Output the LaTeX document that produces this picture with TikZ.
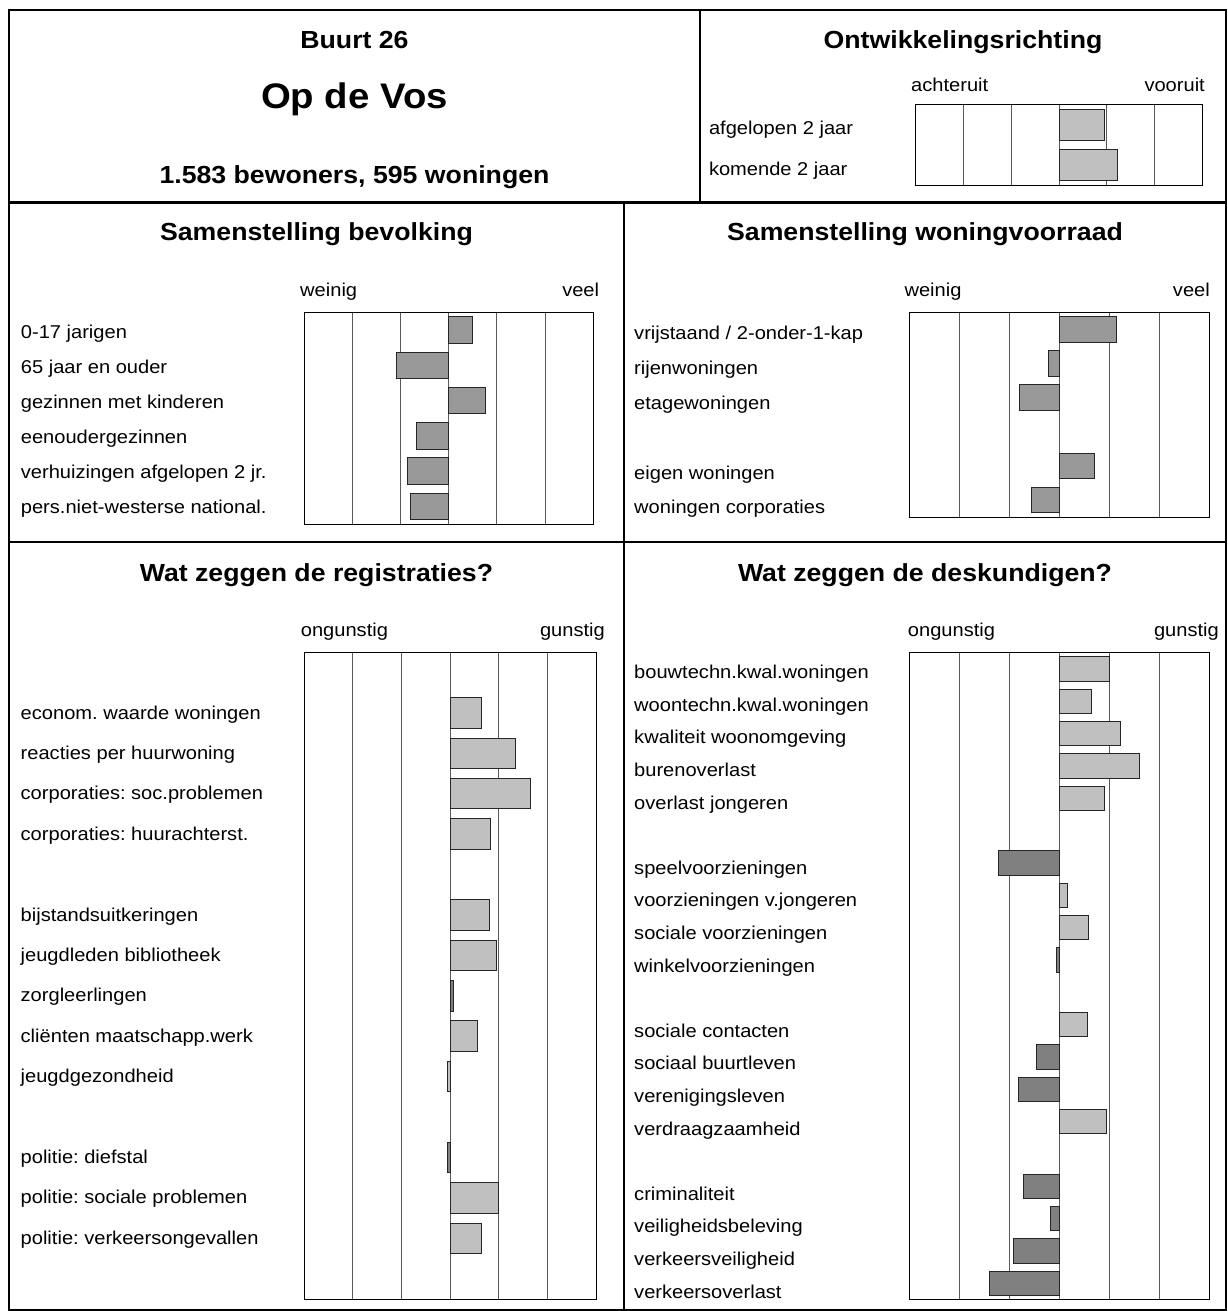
\documentclass[tikz,border=0pt]{standalone}
\usepackage{fontspec}
\setmainfont[FakeStretch=1.08]{Liberation Sans}
\frenchspacing

\definecolor{barmid}{HTML}{999999}
\definecolor{barlight}{HTML}{C0C0C0}
\definecolor{bardark}{HTML}{808080}

\begin{document}
\begin{tikzpicture}[x=1pt, y=-1pt,
    panelline/.style={line width=2.2pt},
    chartbox/.style={draw, line width=0.9pt},
    gridln/.style={draw=black!65, line width=0.9pt},
    barbox/.style={draw=black!85, line width=0.9pt},
    lbl/.style={anchor=base west, inner sep=0pt, font=\fontsize{18.6}{22}\selectfont},
    axhi/.style={lbl, anchor=base east},
    ttl/.style={anchor=base, inner sep=0pt, font=\bfseries\fontsize{24.7}{30}\selectfont}]
  \useasboundingbox (0,0) rectangle (1227,1311);

  % frame and panels
  \draw[panelline] (9,10) rectangle (1226,1310);
  \draw[panelline] (9,202.5) -- (1226,202.5);
  \draw[panelline] (700,10) -- (700,202.5);
  \draw[panelline] (9,542.3) -- (1226,542.3);
  \draw[panelline] (624,202.5) -- (624,1310);

  \node[ttl] (buurt) at (354.5,48.3) {Buurt 26};
  \node[ttl, font=\bfseries\fontsize{35.5}{40}\selectfont] (naam) at (354.5,108.5) {Op de Vos};
  \node[ttl] (omvang) at (354.5,183.3) {1.583 bewoners, 595 woningen};
  \node[ttl] (ontw) at (963,48.3) {Ontwikkelingsrichting};
  \node[ttl] (bev) at (316.5,240) {Samenstelling bevolking};
  \node[ttl] (won) at (925,240) {Samenstelling woningvoorraad};
  \node[ttl] (reg) at (316.5,581) {Wat zeggen de registraties?};
  \node[ttl] (desk) at (925,581) {Wat zeggen de deskundigen?};

  % ontwikkelingsrichting
  \node[lbl] (ontwlo) at (911,91.7) {achteruit};
  \node[axhi] (ontwhi) at (1205,91.7) {vooruit};
  \node[lbl] (afg) at (708.8,134.7) {afgelopen 2 jaar};
  \node[lbl] (kom) at (708.8,175.7) {komende 2 jaar};
  \foreach \i in {1,...,5}
    \draw[gridln] ({915.3+47.9*\i},104.3) -- ({915.3+47.9*\i},185);
  \draw[chartbox] (915.3,104.3) rectangle (1202.7,185);
  \draw[barbox, fill=barlight] (1059.2,109.3) rectangle +(45.2,30.7);
  \draw[barbox, fill=barlight] (1059.2,149.3) rectangle +(58.2,30.7);

  % samenstelling bevolking
  \node[lbl] (bevlo) at (300,296.7) {weinig};
  \node[axhi] (bevhi) at (599.3,296.7) {veel};
  \foreach \txt [count=\k from 0] in {0-17 jarigen, 65 jaar en ouder,
      gezinnen met kinderen, eenoudergezinnen, verhuizingen afgelopen 2 jr.,
      pers.niet-westerse national.}
    \node[lbl] (bev\k) at (20.7,{338.7+35*\k}) {\txt};
  \foreach \i in {1,...,5}
    \draw[gridln] ({304+48.22*\i},312.7) -- ({304+48.22*\i},524.3);
  \draw[chartbox] (304,312.7) rectangle (593.3,524.3);
  \foreach \k/\v in {0/23.6, 1/-52, 2/37, 3/-32, 4/-41, 5/-38.4}
    \draw[barbox, fill=barmid] (448.7,{316.7+35.27*\k}) rectangle +(\v,26.5);

  % samenstelling woningvoorraad
  \node[lbl] (wonlo) at (904.3,296.7) {weinig};
  \node[axhi] (wonhi) at (1210,296.7) {veel};
  \node[lbl] (won0) at (634,339.4) {vrijstaand / 2-onder-1-kap};
  \node[lbl] (won1) at (634,374.3) {rijenwoningen};
  \node[lbl] (won2) at (634,409.2) {etagewoningen};
  \node[lbl] (won4) at (634,479) {eigen woningen};
  \node[lbl] (won5) at (634,513.9) {woningen corporaties};
  \foreach \i in {1,...,5}
    \draw[gridln] ({909+50.05*\i},312.7) -- ({909+50.05*\i},517);
  \draw[chartbox] (909,312.7) rectangle (1209.3,517);
  \foreach \k/\v in {0/57.2, 1/-10.4, 2/-39.4, 4/35.2, 5/-27.4}
    \draw[barbox, fill=barmid] (1059.1,{316.7+34.1*\k}) rectangle +(\v,25.5);

  % registraties
  \node[lbl] (reglo) at (300.7,636.7) {ongunstig};
  \node[axhi] (reghi) at (605,636.7) {gunstig};
  \foreach \k/\txt in {1/econom. waarde woningen, 2/reacties per huurwoning,
      3/corporaties: soc.problemen, 4/corporaties: huurachterst.,
      6/bijstandsuitkeringen, 7/jeugdleden bibliotheek, 8/zorgleerlingen,
      9/cliënten maatschapp.werk, 10/jeugdgezondheid, 12/politie: diefstal,
      13/politie: sociale problemen, 14/politie: verkeersongevallen}
    \node[lbl] (reg\k) at (20.5,{678.7+40.4*\k}) {\txt};
  \foreach \i in {1,...,5}
    \draw[gridln] ({304+48.67*\i},652.7) -- ({304+48.67*\i},1299.3);
  \draw[chartbox] (304,652.7) rectangle (596,1299.3);
  \foreach \k/\v/\col in {1/31.3/barlight, 2/65.3/barlight, 3/80.7/barlight,
      4/40.7/barlight, 6/39.3/barlight, 7/46.3/barlight, 8/3.3/bardark,
      9/27.7/barlight, 10/-2.7/barlight, 12/-2.7/bardark, 13/48.7/barlight,
      14/31.3/barlight}
    \draw[barbox, fill=\col] (450,{657.2+40.41*\k}) rectangle +(\v,30.5);

  % deskundigen
  \node[lbl] (desklo) at (907.7,636.7) {ongunstig};
  \node[axhi] (deskhi) at (1219,636.7) {gunstig};
  \foreach \k/\txt in {0/bouwtechn.kwal.woningen, 1/woontechn.kwal.woningen,
      2/kwaliteit woonomgeving, 3/burenoverlast, 4/overlast jongeren,
      6/speelvoorzieningen, 7/voorzieningen v.jongeren, 8/sociale voorzieningen,
      9/winkelvoorzieningen, 11/sociale contacten, 12/sociaal buurtleven,
      13/verenigingsleven, 14/verdraagzaamheid, 16/criminaliteit,
      17/veiligheidsbeleving, 18/verkeersveiligheid, 19/verkeersoverlast}
    \node[lbl] (desk\k) at (634,{678.7+32.6*\k}) {\txt};
  \foreach \i in {1,...,5}
    \draw[gridln] ({909+50.05*\i},652.7) -- ({909+50.05*\i},1299.3);
  \draw[chartbox] (909,652.7) rectangle (1209.3,1299.3);
  \foreach \k/\v/\col in {0/50.2/barlight, 1/32.2/barlight, 2/61.2/barlight,
      3/80.6/barlight, 4/45.2/barlight, 6/-60.8/bardark, 7/8.2/barlight,
      8/29.2/barlight, 9/-2.4/bardark, 11/28.6/barlight, 12/-22.8/bardark,
      13/-41.1/bardark, 14/47.2/barlight, 16/-36.1/bardark, 17/-9.1/bardark,
      18/-45.8/bardark, 19/-69.4/bardark}
    \draw[barbox, fill=\col] (1059.1,{656.7+32.33*\k}) rectangle +(\v,24.5);
\end{tikzpicture}
\end{document}
